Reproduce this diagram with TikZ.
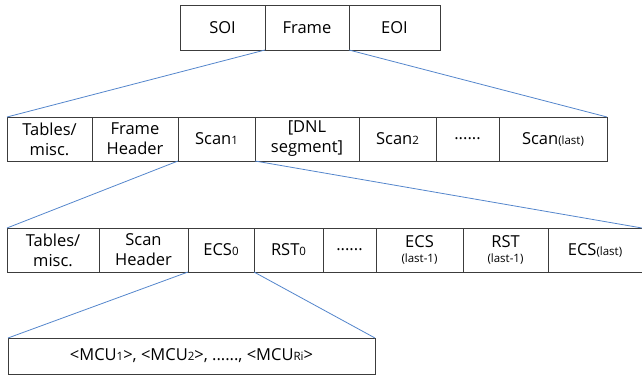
\documentclass[tikz,border=0pt]{standalone}
\usepackage{fontspec}
\setmainfont{Open Sans}
\usetikzlibrary{positioning}
\definecolor{linkblue}{RGB}{84,134,204}
\definecolor{boxgray}{RGB}{60,60,60}
\newcommand{\sm}[1]{{\fontsize{11.5}{13}\selectfont #1}}

\begin{document}
\begin{tikzpicture}[x=1pt, y=-1pt, node distance=0pt, every node/.style={font=\fontsize{16.5}{20}\selectfont}, align=center]

    % Define block styles
    \tikzstyle{block} = [rectangle, draw=boxgray, line width=0.8pt, outer sep=0pt, inner sep=0pt, text centered]
    \tikzstyle{topblock} = [block, minimum height=45pt]
    \tikzstyle{midblock} = [block, minimum height=44pt]
    \tikzstyle{link} = [draw=linkblue, line width=0.8pt]

    \useasboundingbox (0,0) rectangle (642,377);

    % Top row
    \node (soi) [topblock, minimum width=85pt, anchor=north west] at (180,5) {SOI};
    \node (frame) [topblock, minimum width=84pt, right=of soi] {Frame};
    \node (eoi) [topblock, minimum width=91pt, right=of frame] {EOI};

    % Frame row
    \node (tablesf) [midblock, minimum width=85pt, anchor=north west] at (7,117) {Tables/\\misc.};
    \node (fheader) [midblock, minimum width=86pt, right=of tablesf] {Frame\\Header};
    \node (scan1) [midblock, minimum width=77pt, right=of fheader] {Scan\sm{1}};
    \node (dnl) [midblock, minimum width=104pt, right=of scan1] {[DNL\\segment]};
    \node (scan2) [midblock, minimum width=77pt, right=of dnl] {Scan\sm{2}};
    \node (fdots) [midblock, minimum width=63pt, right=of scan2] {......};
    \node (scanlast) [midblock, minimum width=108pt, right=of fdots] {Scan\sm{(last)}};

    % Scan row
    \node (tabless) [midblock, minimum width=92pt, anchor=north west] at (7,228) {Tables/\\misc.};
    \node (sheader) [midblock, minimum width=89pt, right=of tabless] {Scan\\Header};
    \node (ecs0) [midblock, minimum width=66pt, right=of sheader] {ECS\sm{0}};
    \node (rst0) [midblock, minimum width=69pt, right=of ecs0] {RST\sm{0}};
    \node (sdots) [midblock, minimum width=53pt, right=of rst0] {......};
    \node (ecsprev) [midblock, minimum width=87pt, right=of sdots] {ECS\\[-5pt]\sm{(last-1)}};
    \node (rstprev) [midblock, minimum width=85pt, right=of ecsprev] {RST\\[-5pt]\sm{(last-1)}};
    \node (ecslast) [midblock, minimum width=94pt, right=of rstprev] {ECS\sm{(last)}};

    % MCU row
    \node (mcus) [block, minimum width=367pt, minimum height=36pt, anchor=north west] at (8,338) {<MCU\sm{1}>, <MCU\sm{2}>, ......, <MCU\sm{Ri}>};

    % Draw links
    \draw [link] (frame.south west) -- (tablesf.north west);
    \draw [link] (frame.south east) -- (scanlast.north east);
    \draw [link] (scan1.south west) -- (tabless.north west);
    \draw [link] (scan1.south east) -- (ecslast.north east);
    \draw [link] (ecs0.south west) -- (mcus.north west);
    \draw [link] (ecs0.south east) -- (mcus.north east);

\end{tikzpicture}
\end{document}
